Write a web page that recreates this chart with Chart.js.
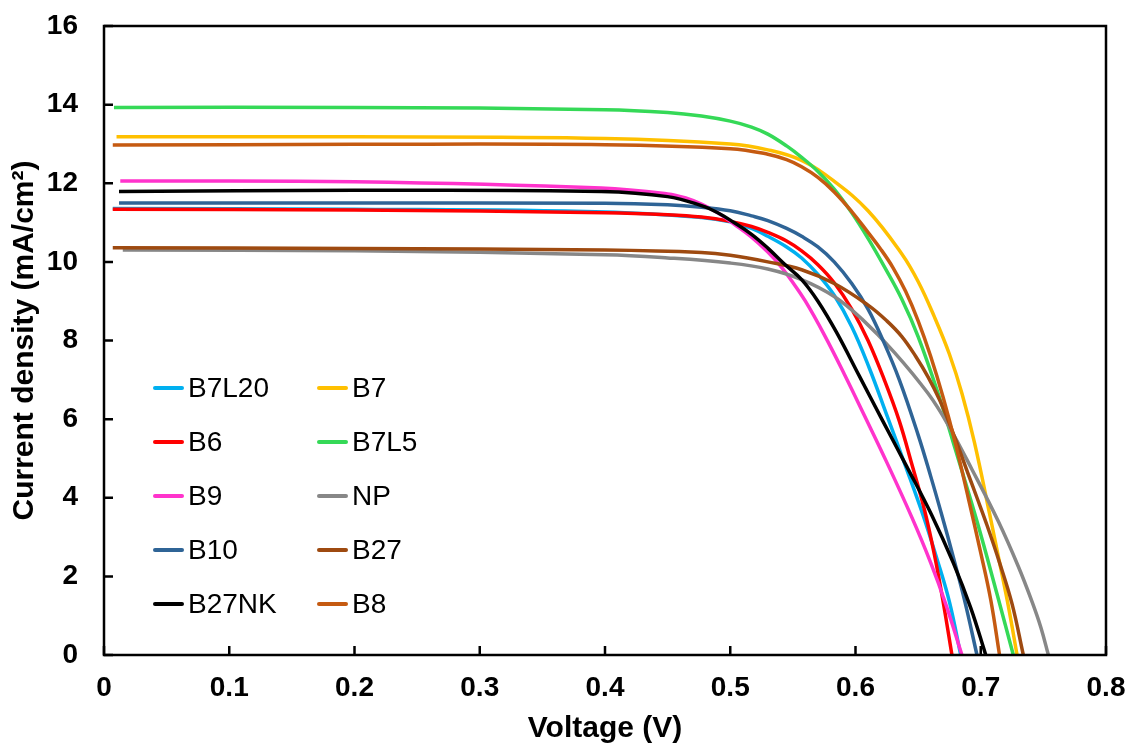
<!DOCTYPE html>
<html>
<head>
<meta charset="utf-8">
<title>J-V curves</title>
<script src="https://cdn.jsdelivr.net/npm/chart.js@4.4.1/dist/chart.umd.min.js"></script>
<style>
  body { margin: 0; background: #fff; }
  #wrap { position: relative; width: 1130px; height: 744px; }
  #legend { position: absolute; left: 0; top: 0; font-family: Arial, "Liberation Sans", sans-serif; font-size: 28px; color: #000; }
  .item { position: absolute; display: flex; align-items: center; white-space: nowrap; height: 40px; }
  .swatch { width: 31px; height: 4px; border-radius: 2px; margin-right: 4px; }
</style>
</head>
<body>
<div id="wrap">
  <canvas id="jv" width="1130" height="744"></canvas>
  <div id="legend"></div>
</div>
<script>
// samples, in legend order (two columns, row by row)
const names = ['B7L20', 'B7', 'B6', 'B7L5', 'B9', 'NP', 'B10', 'B27', 'B27NK', 'B8'];
const colors = ['#00B0F0', '#FFC000', '#FF0000', '#35D957', '#FF33CC', '#878787', '#2F6496', '#9E4A10', '#000000', '#C55A11'];

// voltage (V) and current density (mA/cm2) for each sample
const vB7L20 = [0.007, 0.2, 0.4, 0.477, 0.5, 0.517, 0.53, 0.545, 0.557, 0.57, 0.583, 0.597, 0.611, 0.625, 0.64, 0.654, 0.665, 0.675, 0.684];
const jB7L20 = [11.36, 11.34, 11.27, 11.13, 11.02, 10.85, 10.65, 10.38, 10.1, 9.68, 9.15, 8.35, 7.3, 6.1, 4.8, 3.55, 2.45, 1.35, 0];

const vB7 = [0.01, 0.2, 0.4, 0.5, 0.53, 0.557, 0.583, 0.61, 0.637, 0.65, 0.663, 0.675, 0.685, 0.695, 0.707, 0.716, 0.722, 0.729];
const jB7 = [13.18, 13.18, 13.14, 13.0, 12.85, 12.58, 12.05, 11.3, 10.2, 9.5, 8.6, 7.65, 6.65, 5.4, 3.6, 2.2, 1.25, 0];

const vB6 = [0.007, 0.2, 0.4, 0.45, 0.477, 0.5, 0.517, 0.53, 0.545, 0.557, 0.57, 0.583, 0.597, 0.61, 0.623, 0.635, 0.645, 0.655, 0.663, 0.67, 0.677];
const jB6 = [11.34, 11.32, 11.25, 11.2, 11.14, 11.03, 10.9, 10.75, 10.53, 10.28, 9.93, 9.47, 8.8, 8.0, 7.0, 5.95, 4.85, 3.7, 2.55, 1.35, 0];

const vB7L5 = [0.008, 0.2, 0.4, 0.45, 0.477, 0.5, 0.517, 0.53, 0.545, 0.557, 0.57, 0.583, 0.597, 0.61, 0.623, 0.637, 0.65, 0.666, 0.68, 0.697, 0.713, 0.726];
const jB7L5 = [13.93, 13.93, 13.87, 13.8, 13.71, 13.58, 13.43, 13.25, 12.95, 12.66, 12.3, 11.85, 11.25, 10.6, 9.88, 9.05, 8.1, 6.65, 5.2, 3.4, 1.55, 0];

const vB9 = [0.013, 0.2, 0.397, 0.45, 0.465, 0.477, 0.49, 0.503, 0.517, 0.53, 0.54, 0.549, 0.56, 0.575, 0.591, 0.607, 0.625, 0.645, 0.66, 0.672, 0.685];
const jB9 = [12.06, 12.04, 11.88, 11.73, 11.62, 11.47, 11.25, 10.96, 10.63, 10.25, 9.9, 9.52, 9.0, 8.15, 7.15, 6.1, 4.9, 3.5, 2.35, 1.3, 0];

const vNP = [0.015, 0.2, 0.4, 0.45, 0.5, 0.53, 0.557, 0.583, 0.605, 0.631, 0.658, 0.674, 0.693, 0.714, 0.73, 0.741, 0.748, 0.754];
const jNP = [10.3, 10.28, 10.18, 10.1, 9.97, 9.82, 9.55, 9.12, 8.55, 7.7, 6.65, 5.85, 4.72, 3.4, 2.25, 1.35, 0.7, 0];

const vB10 = [0.012, 0.2, 0.4, 0.45, 0.477, 0.5, 0.517, 0.53, 0.545, 0.557, 0.57, 0.583, 0.597, 0.61, 0.622, 0.635, 0.65, 0.66, 0.669, 0.678, 0.687, 0.697];
const jB10 = [11.5, 11.5, 11.49, 11.45, 11.39, 11.3, 11.17, 11.05, 10.85, 10.65, 10.38, 10.0, 9.45, 8.8, 8.0, 7.0, 5.6, 4.55, 3.55, 2.5, 1.4, 0];

const vB27 = [0.007, 0.2, 0.4, 0.477, 0.5, 0.53, 0.557, 0.583, 0.61, 0.625, 0.637, 0.648, 0.658, 0.667, 0.674, 0.682, 0.69, 0.697, 0.705, 0.715, 0.725, 0.734];
const jB27 = [10.36, 10.34, 10.3, 10.24, 10.17, 10.0, 9.8, 9.45, 8.9, 8.5, 8.1, 7.6, 7.07, 6.5, 5.97, 5.3, 4.6, 4.0, 3.3, 2.35, 1.3, 0];

const vB27NK = [0.012, 0.2, 0.397, 0.45, 0.477, 0.49, 0.503, 0.517, 0.53, 0.543, 0.557, 0.57, 0.585, 0.603, 0.621, 0.64, 0.661, 0.678, 0.692, 0.704];
const jB27NK = [11.79, 11.82, 11.79, 11.66, 11.43, 11.25, 11.0, 10.7, 10.35, 9.95, 9.55, 9.0, 8.2, 7.1, 6.0, 4.85, 3.55, 2.35, 1.2, 0];

const vB8 = [0.007, 0.2, 0.4, 0.5, 0.53, 0.545, 0.557, 0.57, 0.583, 0.597, 0.61, 0.62, 0.63, 0.64, 0.65, 0.66, 0.67, 0.68, 0.69, 0.7, 0.708, 0.715];
const jB8 = [12.97, 12.99, 12.98, 12.88, 12.74, 12.6, 12.42, 12.15, 11.78, 11.28, 10.75, 10.33, 9.85, 9.25, 8.5, 7.6, 6.55, 5.35, 4.0, 2.6, 1.4, 0];

const xTicks = [0, 0.1, 0.2, 0.3, 0.4, 0.5, 0.6, 0.7, 0.8];
const xTickLabels = ['0', '0.1', '0.2', '0.3', '0.4', '0.5', '0.6', '0.7', '0.8'];
const yTicks = [0, 2, 4, 6, 8, 10, 12, 14, 16];

const volts = [vB7L20, vB7, vB6, vB7L5, vB9, vNP, vB10, vB27, vB27NK, vB8];
const currents = [jB7L20, jB7, jB6, jB7L5, jB9, jNP, jB10, jB27, jB27NK, jB8];

const FONT = 'Arial, "Liberation Sans", sans-serif';

// box round the plot + inward tick marks (like the Excel original)
const framePlugin = {
    id: 'frame',
    afterDraw(chart) {
        const { ctx, chartArea: a, scales } = chart;
        ctx.save();
        ctx.strokeStyle = '#000';
        ctx.lineWidth = 2.5;
        ctx.beginPath();
        xTicks.forEach(v => {
            const px = scales.x.getPixelForValue(v);
            ctx.moveTo(px, a.bottom);
            ctx.lineTo(px, a.bottom - 9);
        });
        yTicks.forEach(v => {
            const py = scales.y.getPixelForValue(v);
            ctx.moveTo(a.left, py);
            ctx.lineTo(a.left + 9, py);
        });
        ctx.stroke();
        ctx.strokeRect(a.left, a.top, a.right - a.left, a.bottom - a.top);
        ctx.restore();
    }
};

const datasets = names.map((n, i) => ({
    label: n,
    data: volts[i].map((v, k) => ({ x: v, y: currents[i][k] })),
    borderColor: colors[i],
    backgroundColor: colors[i],
    borderWidth: 3.5,
    pointRadius: 0,
    fill: false,
    tension: 0.4,
    order: names.length - i
}));

new Chart(document.getElementById('jv'), {
    type: 'line',
    data: { datasets: datasets },
    options: {
        responsive: false,
        animation: false,
        devicePixelRatio: 1,
        layout: { padding: { top: 26, right: 24, left: 0, bottom: 0 } },
        plugins: {
            legend: { display: false },
            tooltip: { enabled: false }
        },
        scales: {
            x: {
                type: 'linear',
                min: 0,
                max: 0.8,
                afterBuildTicks: s => { s.ticks = xTicks.map(v => ({ value: v })); },
                afterFit: s => { s.height = 89; s.paddingLeft = 0; s.paddingRight = 0; },
                grid: { display: false, drawTicks: false },
                border: { display: false },
                ticks: {
                    autoSkip: false,
                    maxRotation: 0,
                    padding: 16,
                    color: '#000',
                    font: { family: FONT, size: 28, weight: 'bold' },
                    callback: (v, i) => xTickLabels[i]
                },
                title: {
                    display: true,
                    text: 'Voltage (V)',
                    color: '#000',
                    font: { family: FONT, size: 30, weight: 'bold', lineHeight: 1 },
                    padding: { top: 0, bottom: 0 }
                }
            },
            y: {
                min: 0,
                max: 16,
                afterBuildTicks: s => { s.ticks = yTicks.map(v => ({ value: v })); },
                afterFit: s => { s.width = 104; s.paddingTop = 0; s.paddingBottom = 0; },
                grid: { display: false, drawTicks: false },
                border: { display: false },
                ticks: {
                    autoSkip: false,
                    padding: 26,
                    color: '#000',
                    font: { family: FONT, size: 28, weight: 'bold' }
                },
                title: {
                    display: true,
                    text: 'Current density (mA/cm²)',
                    color: '#000',
                    font: { family: FONT, size: 30, weight: 'bold', lineHeight: 1 },
                    padding: { top: 10, bottom: 0 }
                }
            }
        }
    },
    plugins: [framePlugin]
});

// legend: two columns, inside the plot at lower left
const legendEl = document.getElementById('legend');
names.forEach((n, i) => {
    const col = i % 2, row = Math.floor(i / 2);
    const item = document.createElement('div');
    item.className = 'item';
    item.style.left = (col === 0 ? 153 : 317) + 'px';
    item.style.top = (388 + row * 54 - 20) + 'px';
    const sw = document.createElement('span');
    sw.className = 'swatch';
    sw.style.background = colors[i];
    const label = document.createElement('span');
    label.textContent = n;
    item.appendChild(sw);
    item.appendChild(label);
    legendEl.appendChild(item);
});
</script>
</body>
</html>
